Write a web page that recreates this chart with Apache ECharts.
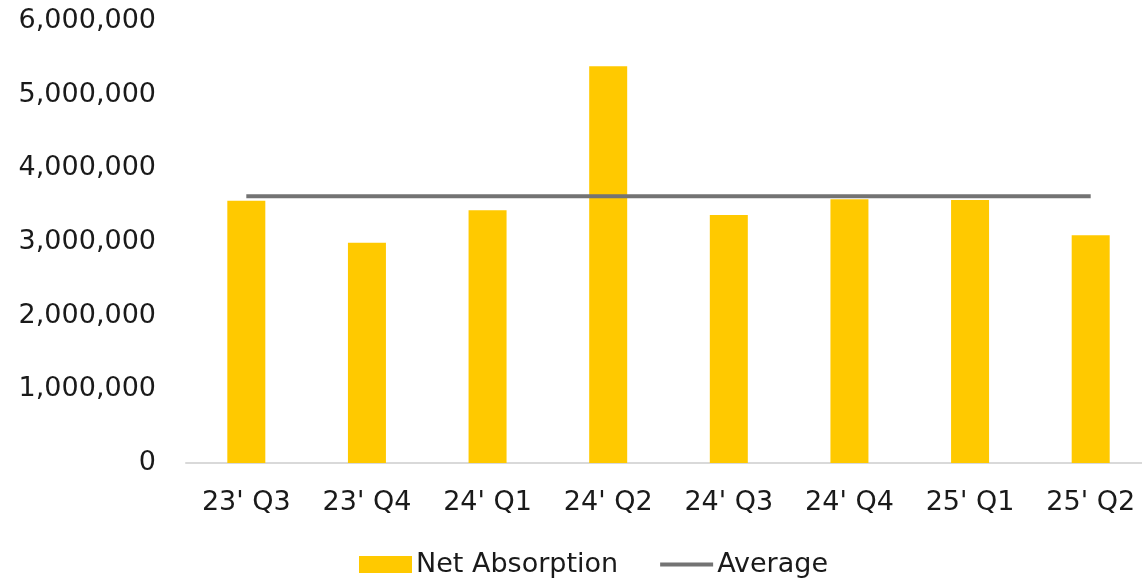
<!DOCTYPE html>
<html>
<head>
<meta charset="utf-8">
<script src="https://cdn.jsdelivr.net/npm/echarts@6/dist/echarts.min.js"></script>
<style>
  html, body { margin: 0; padding: 0; background: #fff; }
  #chart { width: 1142px; height: 578px; }
</style>
</head>
<body>
<div id="chart"></div>
<script>
const categories = ["23' Q3", "23' Q4", "24' Q1", "24' Q2", "24' Q3", "24' Q4", "25' Q1", "25' Q2"]
const netAbsorption = [3560000, 2990000, 3430000, 5385000, 3365000, 3580000, 3570000, 3090000]
const averageValues = [3620000, 3620000, 3620000, 3620000, 3620000, 3620000, 3620000, 3620000]

const font = 'DejaVu Sans'
const chart = echarts.init(document.getElementById('chart'))

chart.setOption({
  animation: false,
  textStyle: { fontFamily: font },
  grid: {
    left: 186,
    right: -9,
    top: 21,
    bottom: 115,
    outerBoundsMode: 'none',
  },
  legend: {
    top: 546,
    left: 354,
    itemWidth: 53,
    itemHeight: 17,
    itemGap: 42,
    textStyle: { fontSize: 27, color: '#1a1a1a', fontFamily: font, padding: [0, 0, 0, -1] },
    data: [
      { name: 'Net Absorption', icon: 'rect' },
      { name: 'Average', icon: 'path://M0,0H55V4H0Z' },
    ],
  },
  xAxis: {
    type: 'category',
    data: categories,
    axisLine: { lineStyle: { color: '#d9d9d9', width: 2 } },
    axisTick: { show: false },
    axisLabel: { color: '#1a1a1a', fontSize: 27, margin: 26 },
  },
  yAxis: {
    type: 'value',
    min: 0,
    max: 6000000,
    interval: 1000000,
    splitLine: { show: false },
    axisLabel: {
      color: '#1a1a1a',
      fontSize: 27,
      margin: 30,
      padding: [4, 0, 0, 0],
      formatter: (v) => v.toLocaleString('en-US'),
    },
  },
  series: [
    {
      name: 'Net Absorption',
      type: 'bar',
      data: netAbsorption,
      barWidth: 38,
      itemStyle: { color: '#ffc900' },
    },
    {
      name: 'Average',
      type: 'line',
      data: averageValues,
      symbol: 'none',
      lineStyle: { color: '#737373', width: 4 },
      itemStyle: { color: '#737373' },
    },
  ],
})
</script>
</body>
</html>
